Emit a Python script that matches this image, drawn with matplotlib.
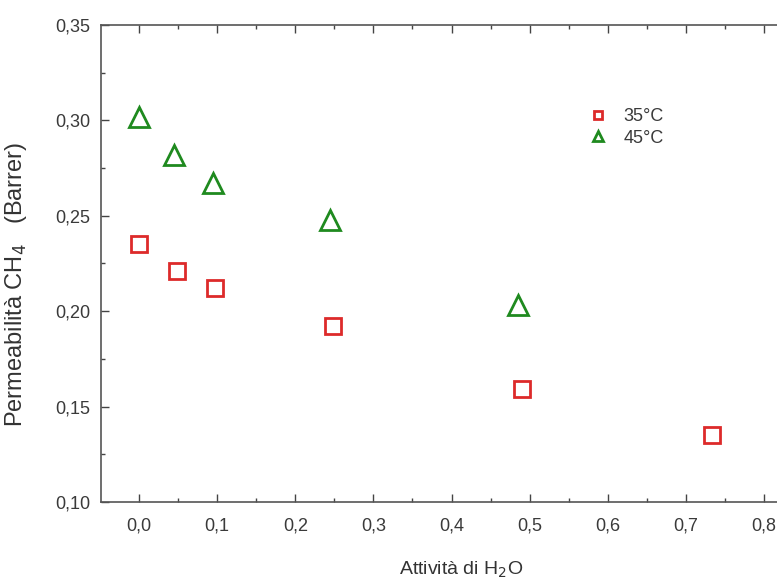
import matplotlib
matplotlib.use("Agg")
import matplotlib.pyplot as plt
from matplotlib.ticker import MultipleLocator, FuncFormatter

plt.rcParams['font.family'] = ['Liberation Sans', 'DejaVu Sans']

# 35 °C
a35 = [0.0, 0.048, 0.097, 0.248, 0.49, 0.733]
p35 = [0.235, 0.221, 0.212, 0.192, 0.159, 0.135]
# 45 °C
a45 = [0.0, 0.045, 0.095, 0.245, 0.485]
p45 = [0.302, 0.282, 0.267, 0.248, 0.203]

fig = plt.figure(figsize=(7.77, 5.81), dpi=100)
# axes run past the right edge (the original picture is cropped)
ax = fig.add_axes([101/777, 1 - 502/581, 720/777, 477/581])

ax.plot(a35, p35, 's', ms=11, mfc='none', mec='#dd2a2a', mew=2, label='35°C')
ax.plot(a45, p45, '^', ms=14, mfc='none', mec='#1f8a1f', mew=2, label='45°C')

ax.set_xlim(-0.0487, 0.873)
ax.set_ylim(0.10, 0.35)
ax.xaxis.set_major_locator(MultipleLocator(0.1))
ax.xaxis.set_minor_locator(MultipleLocator(0.05))
ax.yaxis.set_major_locator(MultipleLocator(0.05))
ax.yaxis.set_minor_locator(MultipleLocator(0.025))
ax.xaxis.set_major_formatter(FuncFormatter(lambda v, p: f"{v:.1f}".replace('.', ',').replace('-0,0', '0,0')))
ax.yaxis.set_major_formatter(FuncFormatter(lambda v, p: f"{v:.2f}".replace('.', ',')))
ax.tick_params(which='both', direction='in', top=True, right=True, colors='#444444',
               labelcolor='#3a3a3a', labelsize=13)
ax.tick_params(which='major', length=6, width=1)
ax.tick_params(which='minor', length=3, width=1)
ax.tick_params(axis='y', pad=8)
ax.tick_params(axis='x', pad=11)
for s in ax.spines.values():
    s.set_color('#555555')
    s.set_linewidth(1.2)

ax.set_xlabel('Attività di H$_2$O', fontsize=14, color='#333333', labelpad=18)
ax.set_ylabel('Permeabilità CH$_4$   (Barrer)', fontsize=17, color='#333333')
ax.yaxis.set_label_coords(-0.1, 0.457)

ax.legend(loc='upper left', bbox_to_anchor=(0.655, 0.86), frameon=False, markerscale=0.55,
          handlelength=1.0, handletextpad=0.9, labelspacing=0.25, fontsize=13,
          labelcolor='#3a3a3a')

fig.savefig('out.png', dpi=100)
